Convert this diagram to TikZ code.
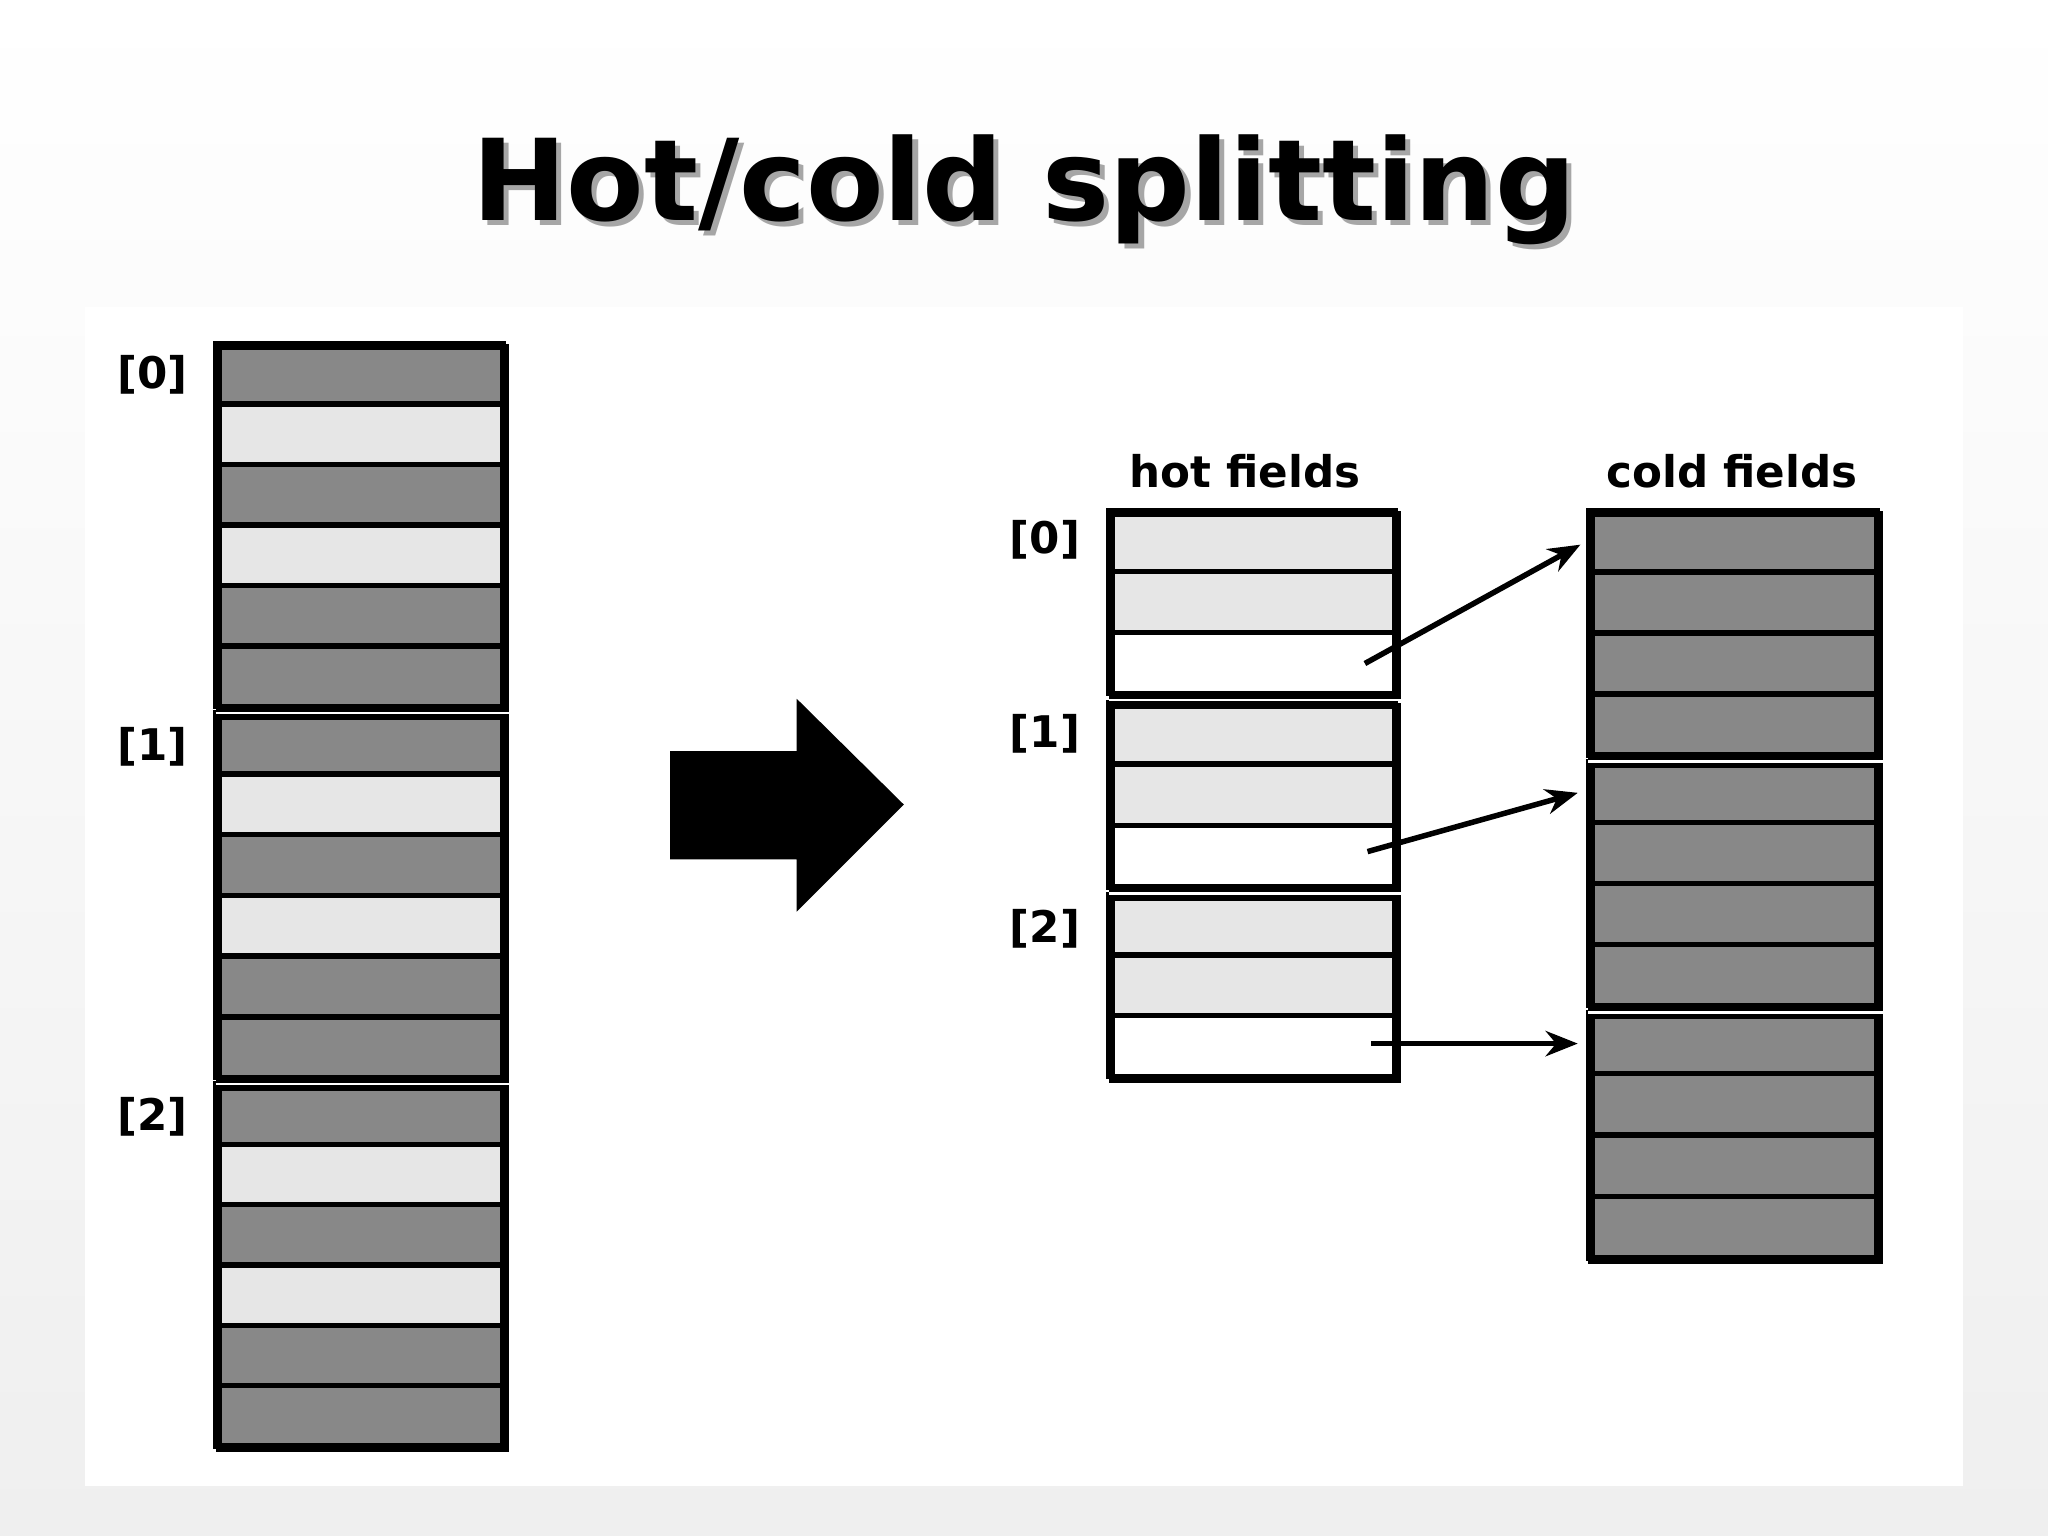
\documentclass[tikz,border=0pt]{standalone}
\usepackage{fontspec}
\setmainfont{DejaVu Sans}
\usetikzlibrary{arrows.meta}
\definecolor{dk}{HTML}{888888}
\definecolor{lt}{HTML}{E6E6E6}
\definecolor{bg}{HTML}{EFEFEF}
\tikzset{
  rowbox/.style={draw=black,line width=2.4pt},
  grpbox/.style={draw=black,line width=2.8pt},
  lbl/.style={font=\bfseries\fontsize{19}{22}\selectfont},
  hdr/.style={font=\bfseries\fontsize{19}{22}\selectfont},
  link/.style={line width=2.4pt,-{Stealth[length=14pt,width=11pt]}},
  gap/.style={draw=white,line width=1.2pt}
}
% \grp{name}{x1}{y1}{x2}{y2}{n}{colour list}
\newcommand{\grp}[7]{%
  \pgfmathsetmacro{\rh}{(#5-#3)/#6}
  \foreach \c [count=\i from 0] in {#7} {
    \draw[rowbox,fill=\c] (#2,{#3+\i*\rh}) rectangle (#4,{#3+(\i+1)*\rh});
  }
  \node[grpbox,inner sep=0pt,minimum width={(#4-#2)*0.02cm},minimum height={(#5-#3)*0.02cm},anchor=north west] (#1) at (#2,#3) {};
}
\begin{document}
\begin{tikzpicture}[x=0.02cm,y=-0.02cm]
\useasboundingbox (0,0) rectangle (1568,1176);
\shade[top color=white,bottom color=bg] (0,0) rectangle (1568,1176);
\fill[white] (65,235) rectangle (1503,1138);
% title
\node[text=gray!70] (tshadow) at (788,149) {\resizebox{16.9cm}{!}{\bfseries Hot/cold splitting}};
\node (title) at (784,145) {\resizebox{16.9cm}{!}{\bfseries Hot/cold splitting}};
% left array
\grp{L0}{165}{263}{385}{541}{6}{dk,lt,dk,lt,dk,dk}
\grp{L1}{165}{546}{385}{825}{6}{dk,lt,dk,lt,dk,dk}
\grp{L2}{165}{830}{385}{1107}{6}{dk,lt,dk,lt,dk,dk}
\draw[gap] (L0.south west) -- (L0.south east);
\draw[gap] (L1.south west) -- (L1.south east);
\node[lbl] (l0) at (117,287) {[0]};
\node[lbl] (l1) at (117,572) {[1]};
\node[lbl] (l2) at (117,855) {[2]};
% big arrow
\fill[black] (513,575) -- (610,575) -- (610,535) -- (692,616) -- (610,698) -- (610,658) -- (513,658) -- cycle;
% hot fields
\grp{H0}{849}{391}{1068}{531}{3}{lt,lt,white}
\grp{H1}{849}{538}{1068}{679}{3}{lt,lt,white}
\grp{H2}{849}{685}{1068}{824}{3}{lt,lt,white}
\draw[gap] (H0.south west) -- (H0.south east);
\draw[gap] (H1.south west) -- (H1.south east);
\node[hdr] (hot) at (953,361) {hot fields};
\node[lbl] (h0) at (800,413) {[0]};
\node[lbl] (h1) at (800,562) {[1]};
\node[lbl] (h2) at (800,711) {[2]};
% cold fields
\grp{C0}{1216}{391}{1437}{578}{4}{dk,dk,dk,dk}
\grp{C1}{1216}{583}{1437}{770}{4}{dk,dk,dk,dk}
\grp{C2}{1216}{775}{1437}{963}{4}{dk,dk,dk,dk}
\draw[gap] (C0.south west) -- (C0.south east);
\draw[gap] (C1.south west) -- (C1.south east);
\node[hdr] (cold) at (1326,361) {cold fields};
% links
\coordinate (a0) at (1045,508); \coordinate (b0) at (1210,417);
\coordinate (a1) at (1047,652); \coordinate (b1) at (1208,607);
\coordinate (a2) at (1050,799); \coordinate (b2) at (1208,799);
\draw[link] (a0) -- (b0);
\draw[link] (a1) -- (b1);
\draw[link] (a2) -- (b2);
\end{tikzpicture}
\end{document}
